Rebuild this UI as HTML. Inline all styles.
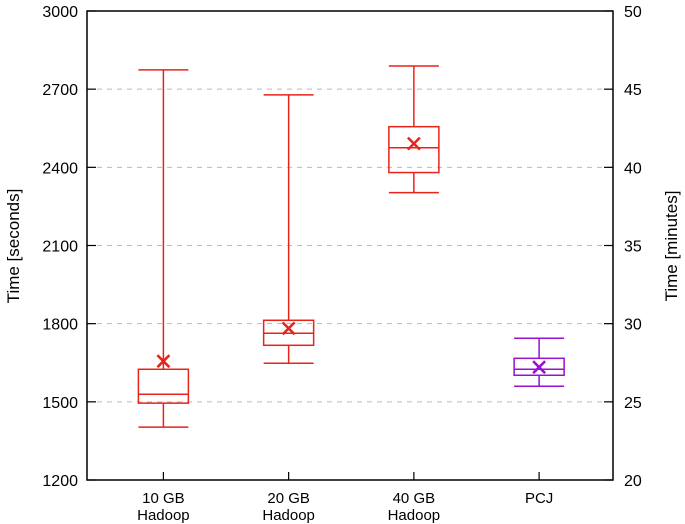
<!DOCTYPE html>
<html><head><meta charset="utf-8"><style>
body{margin:0;background:#fff}
svg{display:block;font-family:"Liberation Sans",Arial,sans-serif}
</style></head><body>
<svg id="c" width="685" height="524" viewBox="0 0 685 524"></svg>
<script>
const categories=["10 GB|Hadoop","20 GB|Hadoop","40 GB|Hadoop","PCJ"];
const mins=[1403,1648,2303,1560];
const q1s=[1495,1717,2380,1602];
const medians=[1529,1763,2475,1625];
const q3s=[1625,1813,2556,1667];
const maxs=[2774,2678,2789,1744];
const means=[1656,1782,2491,1633];
const colors=["#e8231a","#e8231a","#e8231a","#9a10d0"];
const yTicks=[1200,1500,1800,2100,2400,2700,3000];
const y2Ticks=[20,25,30,35,40,45,50];

const L=87,R=613,T=11,B=480;
const svg=document.getElementById('c');
const NS="http://www.w3.org/2000/svg";
function y(v){return B-(v-1200)/1800*(B-T);}
function y2(m){return y(m*60);}
function x(i){return L+(i+0.61)*(R-L)/4.2;}
function el(t,a,p){const e=document.createElementNS(NS,t);for(const k in a)e.setAttribute(k,a[k]);(p||svg).appendChild(e);return e;}

yTicks.forEach(v=>{
  if(v>1200&&v<3000){const g=el('line',{x1:L,x2:R,y1:y(v),y2:y(v),stroke:'#bbb','stroke-dasharray':'5,5','stroke-width':1});
  
  }
  const t=el('line',{x1:L,x2:L+9,y1:y(v),y2:y(v),stroke:'#000','stroke-width':1.2});
  
  
  const lb=el('text',{x:L-9,y:y(v)+6,'text-anchor':'end','font-size':16});
  lb.textContent=v;
  
  
});
y2Ticks.forEach(m=>{
  const t=el('line',{x1:R-9,x2:R,y1:y2(m),y2:y2(m),stroke:'#000','stroke-width':1.2});
  
  
  const lb=el('text',{x:R+11,y:y2(m)+6,'text-anchor':'start','font-size':16});
  lb.textContent=m;
  
  
});
const frame=el('rect',{x:L,y:T,width:R-L,height:B-T,fill:'none',stroke:'#000','stroke-width':1.5});



categories.forEach((c,i)=>{
  const cx=x(i),col=colors[i],hw=25;
  const tk=el('line',{x1:cx,x2:cx,y1:B,y2:B-8,stroke:'#000','stroke-width':1.2});
  
  
  c.split('|').forEach((s,j)=>{
    const t=el('text',{x:cx,y:503+j*17,'text-anchor':'middle','font-size':15});
    t.textContent=s;
    
    
  });
  const g=el('g',{stroke:col,'stroke-width':1.5,fill:'none'});
  
  
  el('line',{x1:cx,x2:cx,y1:y(maxs[i]),y2:y(q3s[i])},g);
  el('line',{x1:cx,x2:cx,y1:y(q1s[i]),y2:y(mins[i])},g);
  el('line',{x1:cx-hw,x2:cx+hw,y1:y(maxs[i]),y2:y(maxs[i])},g);
  el('line',{x1:cx-hw,x2:cx+hw,y1:y(mins[i]),y2:y(mins[i])},g);
  el('rect',{x:cx-hw,y:y(q3s[i]),width:2*hw,height:y(q1s[i])-y(q3s[i])},g);
  el('line',{x1:cx-hw,x2:cx+hw,y1:y(medians[i]),y2:y(medians[i])},g);
  const m=el('path',{d:`M${cx-6},${y(means[i])-6}L${cx+6},${y(means[i])+6}M${cx-6},${y(means[i])+6}L${cx+6},${y(means[i])-6}`,stroke:col,'stroke-width':2.5});
  
  
});

const yl=el('text',{transform:'translate(19,246) rotate(-90)','text-anchor':'middle','font-size':17});
yl.textContent='Time [seconds]';


const yr=el('text',{transform:'translate(677,246) rotate(-90)','text-anchor':'middle','font-size':17});
yr.textContent='Time [minutes]';


</script>
</body></html>
